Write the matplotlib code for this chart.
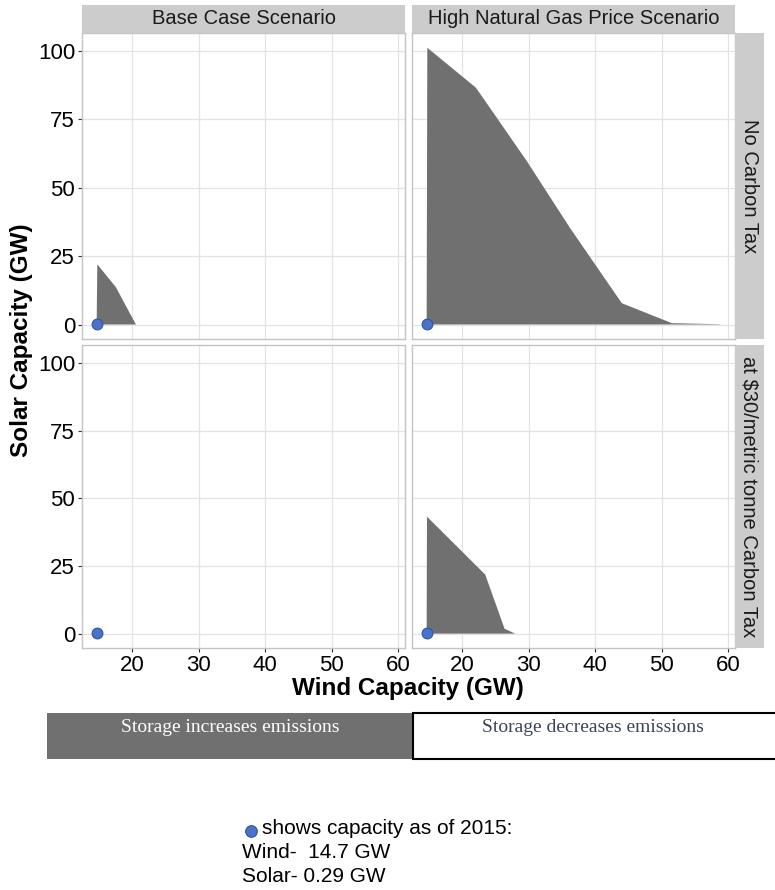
import matplotlib as mpl
mpl.use('Agg')
import matplotlib.pyplot as plt
from matplotlib.patches import Rectangle

#
#--- region where storage increases emissions: (wind GW, solar GW) outline per panel
#
base_notax_wind   = [14.7, 14.8, 17.6, 19.4, 20.6]
base_notax_solar  = [0.0, 22.0, 13.6, 5.4, 0.0]

high_notax_wind   = [14.7, 14.8, 22.1, 29.7, 36.2, 44.0, 51.5, 58.8, 58.8]
high_notax_solar  = [0.0, 101.2, 86.6, 59.9, 35.4, 7.8, 0.5, 0.1, 0.0]

base_tax_wind     = []
base_tax_solar    = []

high_tax_wind     = [14.7, 14.75, 23.5, 26.4, 28.0]
high_tax_solar    = [0.0, 43.2, 21.8, 1.8, 0.0]
#
#--- installed capacity as of 2015
#
wind_2015  = 14.7
solar_2015 = 0.29

col_labels = ['Base Case Scenario', 'High Natural Gas Price Scenario']
row_labels = ['No Carbon Tax', 'at $30/metric tonne Carbon Tax']
x_ticks    = [20, 30, 40, 50, 60]
y_ticks    = [0, 25, 50, 75, 100]

#
#--- sizes (pixels)
#
width  = 775
height = 890
dpi    = 100
fill   = '#707070'
strip  = '#cccccc'
grid   = '#e3e3e3'
border = '#c4c4c4'
dot    = '#4a72c8'

plt.rcParams['font.family'] = ['Liberation Sans', 'DejaVu Sans']

#----------------------------------------------------------------------------------------------
#-- box: convert a pixel box to figure fractions                                             --
#----------------------------------------------------------------------------------------------

def box(x0, y0, x1, y1):
    """
    input:  x0, y0, x1, y1 --- pixel box, measured from the top left
    output: [left, bottom, width, height] in figure fraction
    """
    return [x0 / width, 1 - y1 / height, (x1 - x0) / width, (y1 - y0) / height]

#----------------------------------------------------------------------------------------------
#-- draw_panel: one facet of the grid                                                        --
#----------------------------------------------------------------------------------------------

def draw_panel(fig, rect, xs, ys, left, bottom):
    ax = fig.add_axes(box(*rect))
    ax.set_xlim(12.5, 61.0)
    ax.set_ylim(-5.3, 106.6)
    ax.set_xticks(x_ticks)
    ax.set_yticks(y_ticks)
    ax.grid(True, color=grid, lw=0.9)
    ax.set_axisbelow(True)
    for sp in ax.spines.values():
        sp.set_color(border)
        sp.set_linewidth(1.0)

    if len(xs) > 0:
        ax.fill(xs, ys, color=fill, lw=0, zorder=2)

    ax.scatter([wind_2015], [solar_2015], s=60, color=dot, edgecolors='#2d54a8',
               linewidths=0.8, zorder=3)

    ax.tick_params(axis='both', colors='#333333', labelcolor='black', labelsize=16,
                   length=3, width=0.8, pad=2)
    if not left:
        ax.tick_params(axis='y', left=False, labelleft=False)
    if not bottom:
        ax.tick_params(axis='x', bottom=False, labelbottom=False)
    return ax

#----------------------------------------------------------------------------------------------
#-- draw_strip: facet label box                                                              --
#----------------------------------------------------------------------------------------------

def draw_strip(fig, rect, text, rotation):
    ax = fig.add_axes(box(*rect))
    ax.set_facecolor(strip)
    ax.set_xticks([])
    ax.set_yticks([])
    for sp in ax.spines.values():
        sp.set_visible(False)
    ax.text(0.5, 0.5, text, rotation=rotation, ha='center', va='center',
            fontsize=14.5, color='#1a1a1a', transform=ax.transAxes)


fig = plt.figure(figsize=(width / dpi, height / dpi), dpi=dpi)

cols = [(82, 405), (412, 735)]
rows = [(33, 339), (345, 648)]
data = [[(base_notax_wind, base_notax_solar), (high_notax_wind, high_notax_solar)],
        [(base_tax_wind, base_tax_solar), (high_tax_wind, high_tax_solar)]]

for i, (y0, y1) in enumerate(rows):
    for j, (x0, x1) in enumerate(cols):
        xs, ys = data[i][j]
        draw_panel(fig, (x0, y0, x1, y1), xs, ys, j == 0, i == 1)

for j, (x0, x1) in enumerate(cols):
    draw_strip(fig, (x0, 5, x1, 33), col_labels[j], 0)

for i, (y0, y1) in enumerate(rows):
    draw_strip(fig, (735, y0, 764, y1), row_labels[i], -90)

#
#--- axis titles
#
fig.text(22 / width, 1 - 340 / height, 'Solar Capacity (GW)', rotation=90, ha='center',
         va='center', fontsize=17.5, fontweight='bold')
fig.text(408 / width, 1 - 688 / height, 'Wind Capacity (GW)', ha='center',
         va='center', fontsize=17.5, fontweight='bold')

#
#--- colour key below the grid
#
key = fig.add_axes([0, 0, 1, 1], zorder=-1)
key.set_xlim(0, width)
key.set_ylim(height, 0)
key.axis('off')
key.add_patch(Rectangle((47, 713), 366, 46, facecolor=fill, edgecolor='none'))
key.add_patch(Rectangle((413, 713), 370, 46, facecolor='white', edgecolor='black', lw=1.5))
key.text(230, 727, 'Storage increases emissions', ha='center', va='center', fontsize=14,
         color='white', family='Liberation Serif')
key.text(593, 727, 'Storage decreases emissions', ha='center', va='center', fontsize=14,
         color='#3a4656', family='Liberation Serif')

#
#--- note on the 2015 point
#
key.scatter([251], [831], s=70, color=dot, edgecolors='#2d54a8', linewidths=0.8)
key.text(262, 829, 'shows capacity as of 2015:', ha='left', va='center', fontsize=15)
key.text(242, 853, 'Wind-  %.1f GW' % wind_2015, ha='left', va='center', fontsize=15)
key.text(242, 877, 'Solar- %.2f GW' % solar_2015, ha='left', va='center', fontsize=15)

plt.savefig('out.png', dpi=dpi)
plt.close('all')
